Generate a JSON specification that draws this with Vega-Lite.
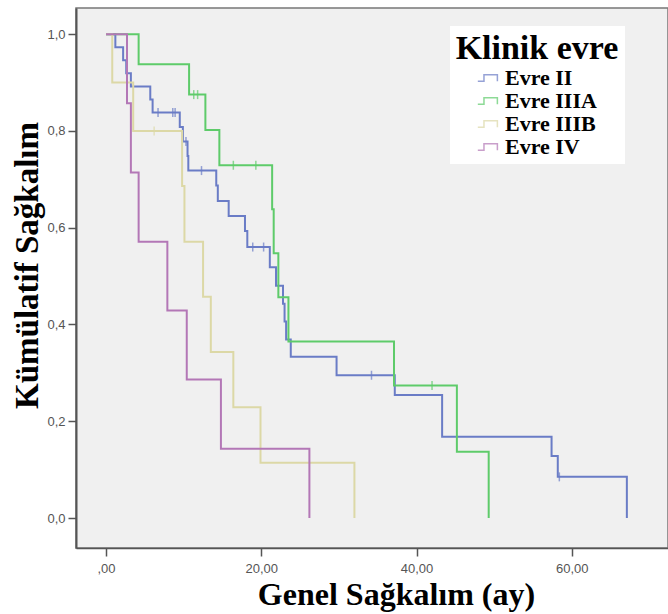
{
  "$schema": "https://vega.github.io/schema/vega-lite/v6.json",
  "width": 592,
  "height": 540,
  "autosize": "none",
  "padding": {"left": 76, "top": 8, "right": 0, "bottom": 66},
  "background": "white",
  "config": {
    "view": {"fill": "#f0f0f0", "stroke": "#777", "strokeWidth": 1.5}
  },
  "datasets": {
    "km": [
      {"g": "Evre II", "t": 0, "s": 1},
      {"g": "Evre II", "t": 1.2, "s": 0.973},
      {"g": "Evre II", "t": 2.2, "s": 0.946},
      {"g": "Evre II", "t": 2.6, "s": 0.919},
      {"g": "Evre II", "t": 3.2, "s": 0.892},
      {"g": "Evre II", "t": 5.7, "s": 0.865},
      {"g": "Evre II", "t": 6.0, "s": 0.838},
      {"g": "Evre II", "t": 9.5, "s": 0.808},
      {"g": "Evre II", "t": 9.9, "s": 0.778},
      {"g": "Evre II", "t": 10.5, "s": 0.748},
      {"g": "Evre II", "t": 10.6, "s": 0.718},
      {"g": "Evre II", "t": 14.2, "s": 0.687},
      {"g": "Evre II", "t": 14.4, "s": 0.655},
      {"g": "Evre II", "t": 15.8, "s": 0.624},
      {"g": "Evre II", "t": 17.9, "s": 0.593},
      {"g": "Evre II", "t": 18.2, "s": 0.56},
      {"g": "Evre II", "t": 21.1, "s": 0.518},
      {"g": "Evre II", "t": 21.9, "s": 0.48},
      {"g": "Evre II", "t": 22.8, "s": 0.443},
      {"g": "Evre II", "t": 23.0, "s": 0.406},
      {"g": "Evre II", "t": 23.2, "s": 0.369},
      {"g": "Evre II", "t": 23.8, "s": 0.333},
      {"g": "Evre II", "t": 29.7, "s": 0.295},
      {"g": "Evre II", "t": 37.2, "s": 0.254},
      {"g": "Evre II", "t": 43.3, "s": 0.168},
      {"g": "Evre II", "t": 57.4, "s": 0.128},
      {"g": "Evre II", "t": 58.2, "s": 0.085},
      {"g": "Evre II", "t": 67.1, "s": 0},
      {"g": "Evre IIIA", "t": 0, "s": 1},
      {"g": "Evre IIIA", "t": 4.2, "s": 0.9375},
      {"g": "Evre IIIA", "t": 10.7, "s": 0.875},
      {"g": "Evre IIIA", "t": 12.8, "s": 0.802},
      {"g": "Evre IIIA", "t": 14.6, "s": 0.729},
      {"g": "Evre IIIA", "t": 21.4, "s": 0.638},
      {"g": "Evre IIIA", "t": 21.6, "s": 0.547},
      {"g": "Evre IIIA", "t": 22.2, "s": 0.456},
      {"g": "Evre IIIA", "t": 23.5, "s": 0.365},
      {"g": "Evre IIIA", "t": 37.1, "s": 0.274},
      {"g": "Evre IIIA", "t": 45.2, "s": 0.137},
      {"g": "Evre IIIA", "t": 49.3, "s": 0},
      {"g": "Evre IIIB", "t": 0, "s": 1},
      {"g": "Evre IIIB", "t": 0.8, "s": 0.9},
      {"g": "Evre IIIB", "t": 3.5, "s": 0.8},
      {"g": "Evre IIIB", "t": 9.8, "s": 0.686},
      {"g": "Evre IIIB", "t": 10.1, "s": 0.571},
      {"g": "Evre IIIB", "t": 12.5, "s": 0.457},
      {"g": "Evre IIIB", "t": 13.5, "s": 0.343},
      {"g": "Evre IIIB", "t": 16.4, "s": 0.229},
      {"g": "Evre IIIB", "t": 19.9, "s": 0.114},
      {"g": "Evre IIIB", "t": 32.0, "s": 0},
      {"g": "Evre IV", "t": 0, "s": 1},
      {"g": "Evre IV", "t": 2.7, "s": 0.857},
      {"g": "Evre IV", "t": 3.2, "s": 0.714},
      {"g": "Evre IV", "t": 4.2, "s": 0.571},
      {"g": "Evre IV", "t": 7.9, "s": 0.429},
      {"g": "Evre IV", "t": 10.4, "s": 0.286},
      {"g": "Evre IV", "t": 14.8, "s": 0.143},
      {"g": "Evre IV", "t": 26.2, "s": 0}
    ],
    "censor": [
      {"g": "Evre II", "t": 6.7, "s": 0.838},
      {"g": "Evre II", "t": 8.6, "s": 0.838},
      {"g": "Evre II", "t": 8.9, "s": 0.838},
      {"g": "Evre II", "t": 10.3, "s": 0.778},
      {"g": "Evre II", "t": 12.3, "s": 0.718},
      {"g": "Evre II", "t": 18.9, "s": 0.56},
      {"g": "Evre II", "t": 20.3, "s": 0.56},
      {"g": "Evre II", "t": 34.2, "s": 0.295},
      {"g": "Evre II", "t": 58.4, "s": 0.085},
      {"g": "Evre IIIA", "t": 11.3, "s": 0.875},
      {"g": "Evre IIIA", "t": 11.8, "s": 0.875},
      {"g": "Evre IIIA", "t": 16.4, "s": 0.729},
      {"g": "Evre IIIA", "t": 19.3, "s": 0.729},
      {"g": "Evre IIIA", "t": 42.0, "s": 0.274},
      {"g": "Evre IIIB", "t": 6.2, "s": 0.8}
    ]
  },
  "encoding": {
    "x": {
      "field": "t", "type": "quantitative",
      "scale": {"domain": [-3.87, 72.4], "nice": false, "zero": false},
      "axis": {
        "values": [0, 20, 40, 60],
        "labelExpr": "datum.value == 0 ? ',00' : replace(format(datum.value, '.2f'), '.', ',')",
        "grid": false,
        "domainColor": "#555", "domainWidth": 1.5,
        "tickColor": "#555", "tickWidth": 1.5, "tickSize": 8,
        "labelColor": "#555", "labelFont": "Liberation Sans", "labelFontSize": 13, "labelPadding": 6,
        "title": "Genel Sağkalım (ay)",
        "titleFont": "Liberation Serif", "titleFontSize": 32, "titleFontWeight": "bold", "titleColor": "black",
        "titleX": 320, "titleY": 56, "titleBaseline": "alphabetic", "titleAlign": "center"
      }
    },
    "y": {
      "field": "s", "type": "quantitative",
      "scale": {"domain": [-0.062, 1.054], "nice": false, "zero": false},
      "axis": {
        "values": [0, 0.2, 0.4, 0.6, 0.8, 1.0],
        "labelExpr": "replace(format(datum.value, '.1f'), '.', ',')",
        "grid": false,
        "domainColor": "#555", "domainWidth": 2,
        "tickColor": "#555", "tickWidth": 1.5, "tickSize": 8,
        "labelColor": "#555", "labelFont": "Liberation Sans", "labelFontSize": 13, "labelPadding": 3,
        "title": "Kümülatif Sağkalım",
        "titleFont": "Liberation Serif", "titleFontSize": 33, "titleFontWeight": "bold", "titleColor": "black",
        "titleX": -39, "titleY": 257, "titleBaseline": "alphabetic", "titleAlign": "center", "titleAngle": 270
      }
    },
    "color": {
      "field": "g", "type": "nominal",
      "scale": {
        "domain": ["Evre II", "Evre IIIA", "Evre IIIB", "Evre IV"],
        "range": ["#6a7cc6", "#5ecb6a", "#dcd8a6", "#b377b6"]
      },
      "legend": {
        "orient": "none", "legendX": 374, "legendY": 18,
        "fillColor": "white", "padding": 6,
        "title": "Klinik evre", "titleAnchor": "middle",
        "titleFont": "Liberation Serif", "titleFontSize": 34, "titleFontWeight": "bold", "titleColor": "black", "titlePadding": 0,
        "labelFont": "Liberation Serif", "labelFontSize": 22, "labelFontWeight": "bold", "labelColor": "black",
        "symbolType": "M-1,0.3H-0.45V-0.3H0.75V0.3V-0.3H-0.45V0.3Z",
        "symbolSize": 500, "symbolStrokeWidth": 1.5,
        "rowPadding": 0, "labelOffset": 4
      }
    }
  },
  "layer": [
    {
      "data": {"name": "km"},
      "mark": {"type": "line", "interpolate": "step-after", "strokeWidth": 2}
    },
    {
      "data": {"name": "censor"},
      "mark": {"type": "tick", "orient": "vertical", "size": 9, "thickness": 1.5}
    }
  ]
}
